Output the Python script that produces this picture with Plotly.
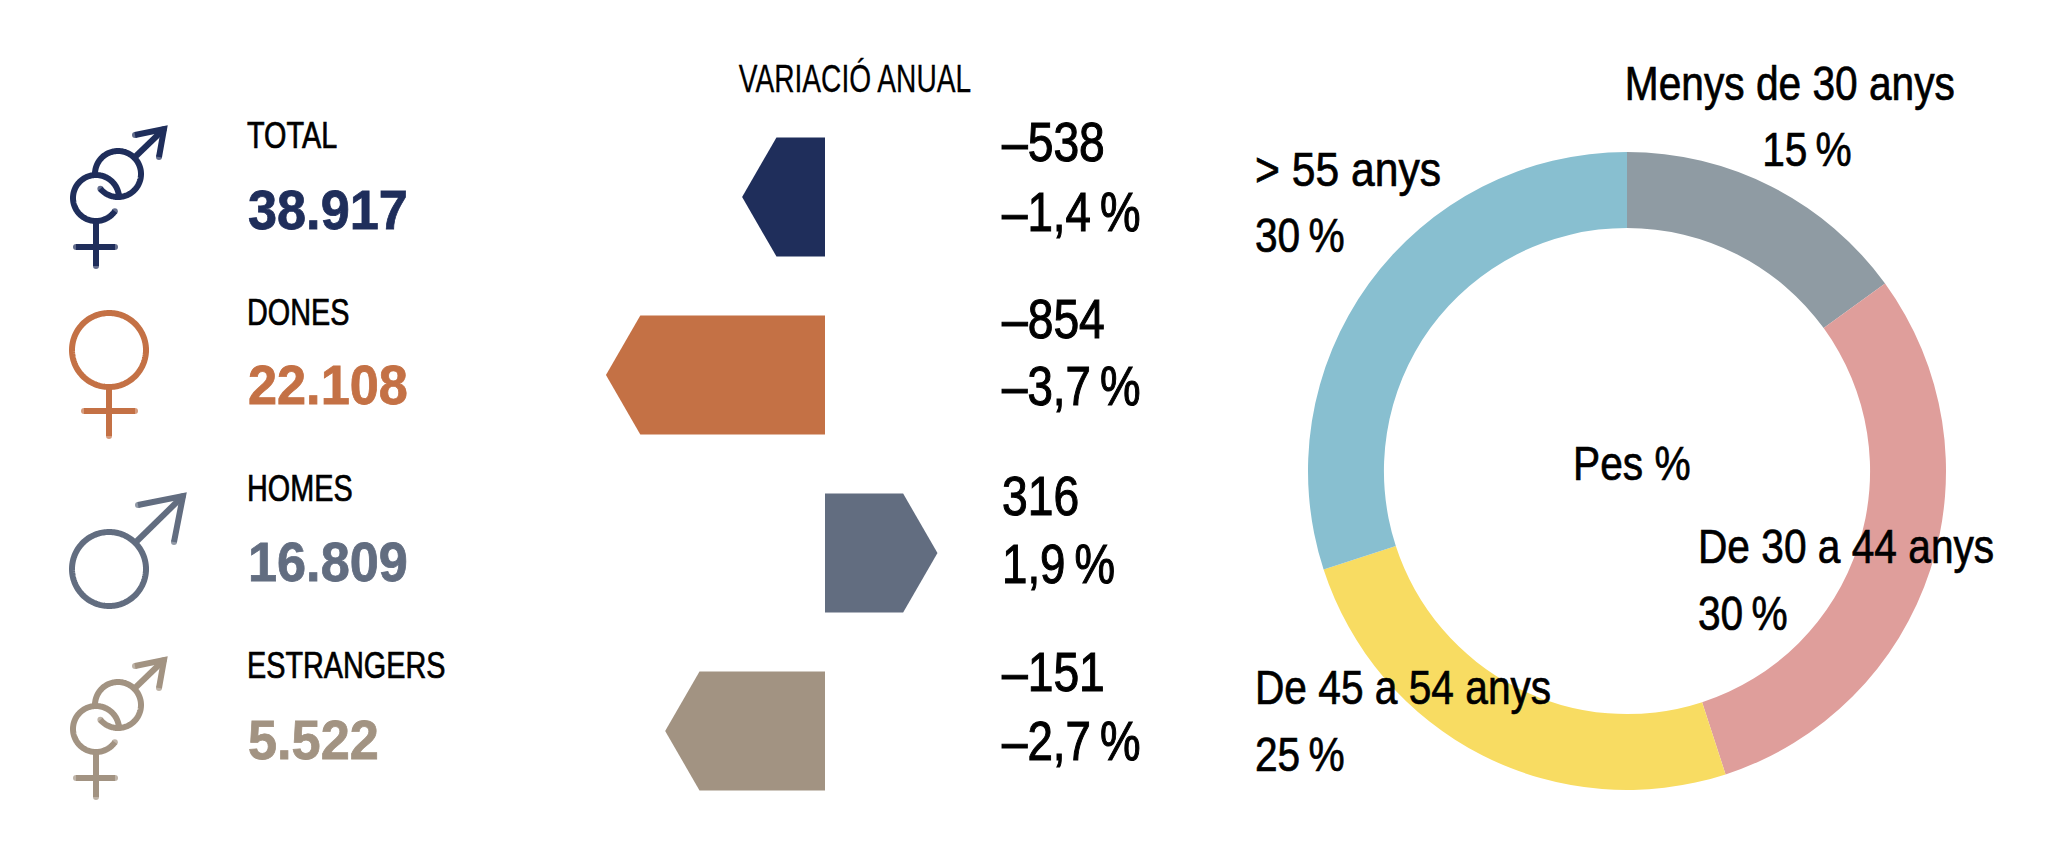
import json
import numpy as np
import plotly.graph_objects as go

W, H = 2067, 850

categories = ["TOTAL", "DONES", "HOMES", "ESTRANGERS"]
totals = ["38.917", "22.108", "16.809", "5.522"]
var_abs = ["–538", "–854", "316", "–151"]
var_pct = [-1.4, -3.7, 1.9, -2.7]
var_pct_labels = ["–1,4\u2009%", "–3,7\u2009%", "1,9\u2009%", "–2,7\u2009%"]
colors = ["#1F2E5B", "#C47145", "#626D80", "#A29382"]

age_groups = ["Menys de 30 anys", "De 30 a 44 anys", "De 45 a 54 anys", "> 55 anys"]
age_pes = [15, 30, 25, 30]
age_labels = ["15\u2009%", "30\u2009%", "25\u2009%", "30\u2009%"]
age_colors = ["#8F9BA3", "#DF9E9B", "#F8DC62", "#88BFD0"]

FONT = "Liberation Sans"

# bars: 59 px per point of percent, rows 178 px apart
PX_PCT = 59.2
BASE_X = 825
ROW0_Y = 197
ROW_DY = 178
HEAD = 0.58   # arrow head depth, in percent units
HALF = 0.334  # half bar height, in rows

fig = go.Figure()


def stroke(xs, ys, color, width=6):
    n = len(xs)
    fig.add_trace(go.Scatter(
        x=xs, y=ys, xaxis="x2", yaxis="y2", mode="lines+markers",
        line=dict(color=color, width=width, simplify=False),
        marker=dict(color=color, size=[width] + [0] * (n - 2) + [width], line=dict(width=0)),
        hoverinfo="skip", showlegend=False))


def arc(cx, cy, r, a0, a1, color, width=6):
    # angles in degrees, 0 = right, growing clockwise on screen
    t = np.radians(np.linspace(a0, a1, 180))
    stroke(cx + r * np.cos(t), cy + r * np.sin(t), color, width)


def arrow(x0, y0, x1, y1, hx0, hy0, hx1, hy1, color, width=6):
    stroke([x0, x1], [y0, y1], color, width)
    stroke([hx0, x1, hx1], [hy0, y1, hy1], color, width)


def icon_both(dy, color):
    arc(96, 198 + dy, 23, 35, 352, color)
    stroke([96, 96], [221 + dy, 266 + dy], color)
    stroke([76, 115], [247 + dy, 247 + dy], color)
    arc(118, 174 + dy, 23, 140, -178, color)
    arrow(135, 157 + dy, 164, 129 + dy, 135, 135 + dy, 159, 157 + dy, color)


def icon_female(color):
    arc(109, 350, 37, 0, 360, color)
    stroke([109, 109], [387, 436], color)
    stroke([84, 135], [411, 411], color)


def icon_male(color):
    arc(109, 569, 37, 0, 360, color)
    arrow(136, 542, 183, 496, 138, 505, 174, 542, color)


icon_both(0, colors[0])
icon_female(colors[1])
icon_male(colors[2])
icon_both(531, colors[3])

# arrow-shaped bars
for i, (pct, col) in enumerate(zip(var_pct, colors)):
    sgn = 1 if pct > 0 else -1
    fig.add_trace(go.Scatter(
        x=[0, pct - sgn * HEAD, pct, pct - sgn * HEAD, 0, 0],
        y=[i - HALF, i - HALF, i, i + HALF, i + HALF, i - HALF],
        mode="lines", fill="toself", fillcolor=col, line=dict(width=0),
        hoverinfo="skip", showlegend=False))

# donut
fig.add_trace(go.Pie(
    labels=age_groups, values=age_pes, hole=0.762, sort=False, direction="clockwise",
    rotation=0, marker=dict(colors=age_colors, line=dict(width=0)), textinfo="none",
    hoverinfo="skip", showlegend=False,
    domain=dict(x=[(1627 - 319) / W, (1627 + 319) / W], y=[1 - (471 + 319) / H, 1 - (471 - 319) / H])))

squeeze = []  # horizontal condensing per annotation, no condensed font is installed
heavy = []    # extra outline, the original face is a medium weight


def label(x, y, text, size, factor, color="#000000", anchor="left", weight=400, outline=0.7):
    fig.add_annotation(x=x, y=y, xref="x2", yref="y2", text=text, showarrow=False,
                       xanchor=anchor, align=anchor, yanchor="middle",
                       font=dict(size=size, color=color, family=FONT, weight=weight))
    squeeze.append(factor)
    heavy.append(outline)


label_y = [135, 312, 488, 665]
total_y = [210, 385, 562, 740]
abs_y = [142, 319, 496, 672]
pct_y = [212, 386, 564, 741]
for i in range(4):
    label(244.5, label_y[i], categories[i], 36, 0.80)
    label(246, total_y[i], totals[i], 55, 0.95, colors[i], weight=700, outline=0.8)
    label(1000, abs_y[i], var_abs[i], 55, 0.84, outline=1.1)
    label(1000, pct_y[i], var_pct_labels[i], 55, 0.83, outline=1.1)

label(855, 79, "VARIACIÓ ANUAL", 38, 0.74, anchor="center", outline=0.3)
label(1790, 83, age_groups[0], 49, 0.83, anchor="center")
label(1807, 149, age_labels[0], 49, 0.83, anchor="center")
label(1695.5, 546, age_groups[1], 49, 0.83)
label(1695.5, 613, age_labels[1], 49, 0.83)
label(1252.5, 687, age_groups[2], 49, 0.83)
label(1252.5, 754, age_labels[2], 49, 0.83)
label(1252.5, 169, age_groups[3], 49, 0.87)
label(1252.5, 235, age_labels[3], 49, 0.83)
label(1632, 463, "Pes %", 49, 0.83, anchor="center")

hidden = dict(visible=False, fixedrange=True)
fig.update_layout(
    width=W, height=H, margin=dict(l=0, r=0, t=0, b=0),
    paper_bgcolor="#FFFFFF", plot_bgcolor="#FFFFFF",
    xaxis=dict(range=[-BASE_X / PX_PCT, (W - BASE_X) / PX_PCT], domain=[0, 1], **hidden),
    yaxis=dict(range=[(H - ROW0_Y) / ROW_DY, -ROW0_Y / ROW_DY], domain=[0, 1], **hidden),
    xaxis2=dict(range=[0, W], domain=[0, 1], overlaying="x", **hidden),
    yaxis2=dict(range=[H, 0], domain=[0, 1], overlaying="y", **hidden),
)

post = """
document.body.style.margin = '0';
document.body.style.overflow = 'hidden';
var squeeze = %s, heavy = %s;
document.querySelectorAll('.annotation-text').forEach(function (t, i) {
    t.setAttribute('lengthAdjust', 'spacingAndGlyphs');
    t.setAttribute('textLength', t.getComputedTextLength() * squeeze[i]);
    t.style.stroke = t.style.fill;
    t.style.strokeWidth = heavy[i] + 'px';
});
""" % (json.dumps(squeeze), json.dumps(heavy))

fig.write_html("out.html", config=dict(displayModeBar=False), post_script=post)
